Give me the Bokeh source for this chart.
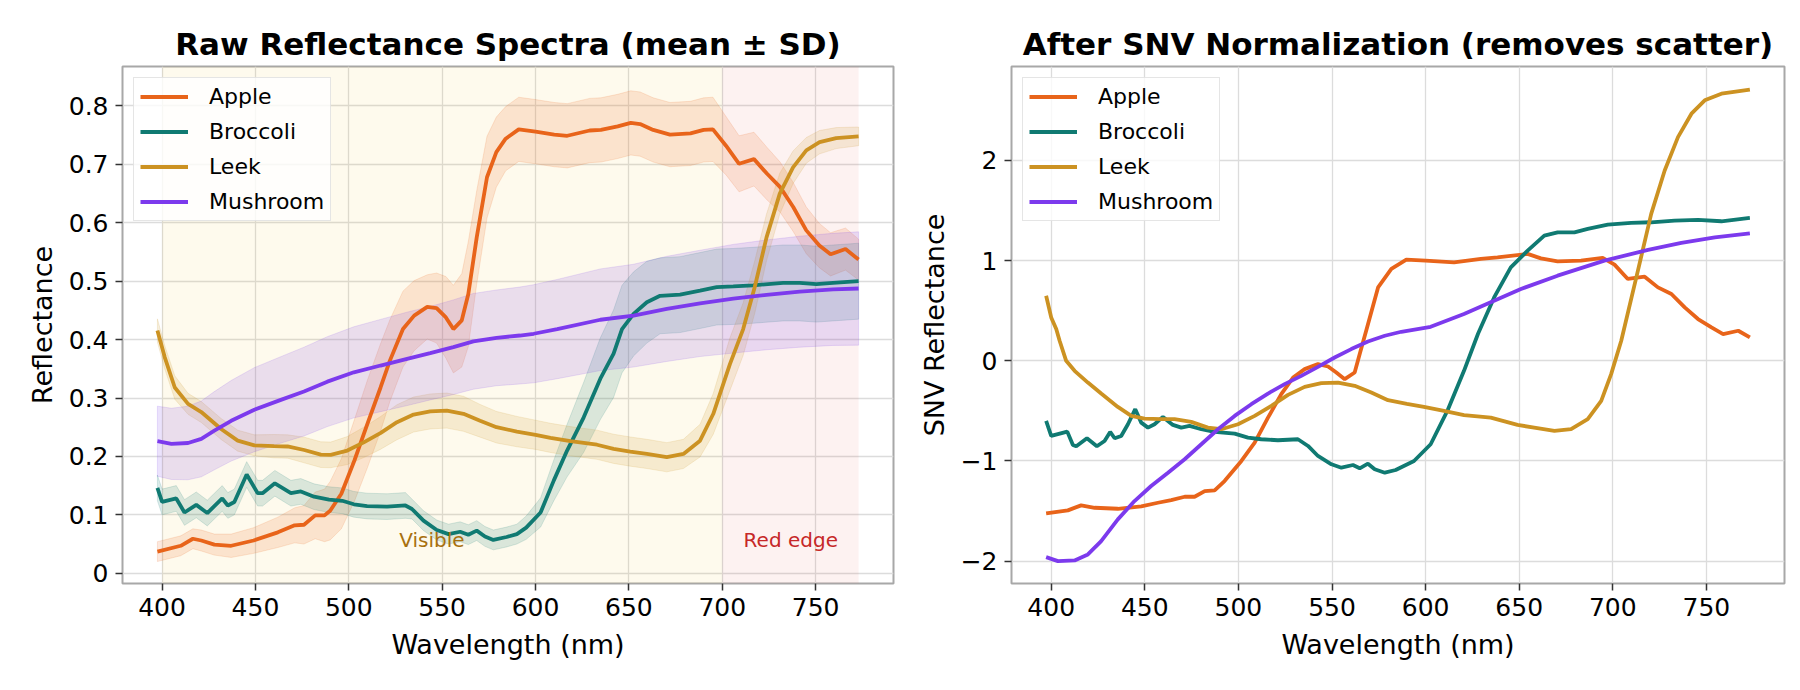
import numpy as np
from bokeh.plotting import figure
from bokeh.layouts import row
from bokeh.models import Range1d, FixedTicker, Label, BoxAnnotation
from bokeh.embed import file_html
from bokeh.resources import INLINE

# ---------------- data ----------------
names = ["Apple", "Broccoli", "Leek", "Mushroom"]
colors = ["#e8641a", "#107a72", "#cc9222", "#7c3aed"]

apple_wl = [397.5, 410, 416.5, 421, 428, 437, 449, 462, 471, 476,
            482, 487, 490, 496, 503, 510, 517, 522, 529, 535,
            542, 547, 552, 556, 560.5, 564, 568.5, 574, 579, 584,
            591, 600, 610, 617, 629, 635, 644, 651, 656, 663,
            672, 683, 690, 695, 702, 709, 717, 724, 731, 738,
            745, 752, 758, 766, 773]
apple_mean = [0.037, 0.047, 0.059, 0.056, 0.049, 0.047, 0.056, 0.070, 0.082, 0.083,
              0.099, 0.099, 0.107, 0.136, 0.193, 0.256, 0.318, 0.364, 0.418, 0.441,
              0.456, 0.454, 0.438, 0.418, 0.433, 0.478, 0.575, 0.678, 0.721, 0.744,
              0.760, 0.756, 0.751, 0.749, 0.758, 0.759, 0.765, 0.771, 0.769, 0.759,
              0.751, 0.753, 0.759, 0.760, 0.732, 0.701, 0.709, 0.684, 0.661, 0.627,
              0.587, 0.561, 0.546, 0.555, 0.537]
apple_sd = [0.017, 0.017, 0.017, 0.018, 0.018, 0.020, 0.022, 0.026, 0.030, 0.033,
            0.040, 0.045, 0.050, 0.060, 0.070, 0.075, 0.075, 0.070, 0.065, 0.060,
            0.055, 0.060, 0.070, 0.075, 0.080, 0.090, 0.080, 0.070, 0.060, 0.055,
            0.055, 0.055, 0.055, 0.055, 0.055, 0.055, 0.055, 0.055, 0.055, 0.055,
            0.055, 0.055, 0.055, 0.055, 0.050, 0.048, 0.046, 0.045, 0.043, 0.042,
            0.040, 0.038, 0.037, 0.036, 0.035]

broc_wl = [397.5, 400, 407.6, 412, 418.3, 424.2, 432.2, 435.2, 438.7, 445.3,
           451.2, 453.8, 460.4, 469, 474.3, 481.4, 489.4, 496.5, 502.7, 509.8,
           520.5, 530.3, 533.8, 540, 547.1, 553.4, 559.6, 564, 568.5, 572.9,
           577.4, 584.5, 590, 595, 602.7, 609.8, 616.9, 625.8, 634.7, 641.8,
           646.3, 652.5, 659.6, 666.7, 677.4, 688.1, 697, 705.9, 716.5, 732.6,
           741.5, 750.4, 759.3, 773]
broc_mean = [0.146, 0.122, 0.128, 0.104, 0.117, 0.103, 0.128, 0.116, 0.122, 0.169,
             0.137, 0.137, 0.154, 0.137, 0.140, 0.131, 0.126, 0.124, 0.118, 0.115,
             0.114, 0.116, 0.110, 0.090, 0.074, 0.067, 0.071, 0.066, 0.073, 0.063,
             0.057, 0.062, 0.067, 0.078, 0.104, 0.159, 0.210, 0.267, 0.333, 0.376,
             0.418, 0.444, 0.464, 0.475, 0.477, 0.484, 0.490, 0.491, 0.493, 0.497,
             0.497, 0.495, 0.497, 0.500]
broc_sd = [0.022, 0.022, 0.022, 0.022, 0.022, 0.022, 0.022, 0.022, 0.022, 0.022,
           0.022, 0.022, 0.022, 0.022, 0.022, 0.022, 0.022, 0.022, 0.022, 0.022,
           0.022, 0.022, 0.017, 0.017, 0.017, 0.017, 0.017, 0.017, 0.017, 0.017,
           0.017, 0.017, 0.017, 0.020, 0.025, 0.035, 0.045, 0.060, 0.070, 0.075,
           0.075, 0.072, 0.070, 0.065, 0.065, 0.065, 0.065, 0.065, 0.065, 0.065,
           0.065, 0.065, 0.065, 0.065]

leek_wl = [397.5, 401.4, 406.8, 413.9, 421, 431.6, 440.5, 449.4, 460, 467.2,
           476.1, 485, 490.3, 499.2, 508, 516.9, 525.8, 534.7, 543.6, 552.5,
           561.4, 570.3, 579.1, 590, 600, 608, 618.7, 632.9, 641.8, 650.7,
           659.6, 670.3, 679.2, 688.1, 695.2, 704.1, 711.2, 717.4, 723.7, 730.8,
           737.9, 745, 752.1, 761, 773]
leek_mean = [0.4155, 0.370, 0.318, 0.290, 0.276, 0.247, 0.227, 0.219, 0.2175, 0.217,
             0.211, 0.203, 0.2026, 0.210, 0.224, 0.240, 0.2586, 0.2717, 0.277, 0.2785,
             0.273, 0.261, 0.250, 0.2425, 0.237, 0.2317, 0.226, 0.220, 0.213, 0.2083,
             0.2043, 0.1986, 0.2043, 0.227, 0.273, 0.358, 0.418, 0.490, 0.575, 0.650,
             0.695, 0.724, 0.738, 0.745, 0.748]
leek_sd = [0.020, 0.020, 0.020, 0.018, 0.018, 0.018, 0.018, 0.018, 0.020, 0.020,
           0.022, 0.022, 0.022, 0.024, 0.026, 0.028, 0.030, 0.030, 0.030, 0.030,
           0.030, 0.028, 0.027, 0.026, 0.025, 0.025, 0.025, 0.025, 0.025, 0.025,
           0.025, 0.025, 0.025, 0.028, 0.035, 0.045, 0.045, 0.045, 0.040, 0.035,
           0.028, 0.022, 0.020, 0.018, 0.016]

mush_wl = [397.5, 405, 413.9, 421, 428, 437, 449.4, 463.6, 476, 488.5,
           502.7, 517, 531.2, 543.6, 556, 566.7, 579.1, 591.6, 599, 611.6,
           634.7, 652.5, 670.3, 688.1, 705.9, 723.7, 741.5, 759.3, 773]
mush_mean = [0.226, 0.2215, 0.223, 0.230, 0.244, 0.261, 0.280, 0.2968, 0.311, 0.328,
             0.344, 0.3556, 0.367, 0.3767, 0.387, 0.397, 0.403, 0.407, 0.410, 0.418,
             0.434, 0.441, 0.4526, 0.462, 0.470, 0.4766, 0.482, 0.486, 0.4875]
mush_sd = [0.060, 0.061, 0.063, 0.065, 0.067, 0.069, 0.072, 0.074, 0.076, 0.077,
           0.078, 0.079, 0.080, 0.080, 0.081, 0.082, 0.082, 0.083, 0.084, 0.085,
           0.087, 0.088, 0.090, 0.091, 0.093, 0.094, 0.095, 0.096, 0.097]

apple_snv_wl = [397.3, 408.9, 416, 423.2, 435.6, 448.1, 457, 464.1, 471.3, 476.6,
                482, 487.3, 492.6, 501.6, 508.7, 515.8, 522.9, 529.2, 535.4, 542.5,
                547.9, 552.3, 556.8, 562.1, 564.8, 568.4, 574.6, 581.7, 589.7, 600,
                615.2, 629.5, 638.4, 654.5, 661.6, 670.5, 683, 694.6, 700.9, 708,
                717, 724.1, 731.3, 738.4, 745.5, 752.7, 758.9, 767, 773.2]
apple_snv = [-1.523, -1.493, -1.443, -1.467, -1.477, -1.453, -1.417, -1.39, -1.357, -1.357,
             -1.3, -1.293, -1.2, -1.0, -0.817, -0.567, -0.333, -0.167, -0.083, -0.033,
             -0.057, -0.117, -0.183, -0.117, 0.067, 0.31, 0.733, 0.917, 1.01, 1.0,
             0.983, 1.017, 1.033, 1.067, 1.023, 0.993, 1.0, 1.027, 0.96, 0.817,
             0.84, 0.733, 0.667, 0.533, 0.417, 0.333, 0.267, 0.3, 0.233]

broc_snv_wl = [397.3, 400, 408.6, 411.6, 413.4, 419.1, 424.4, 428.5, 431.5, 433.9,
               437.4, 441, 444.9, 448.1, 451.7, 455.2, 459.7, 465, 469.5, 473.9,
               480.2, 487.3, 498, 505.1, 512.2, 521.1, 531.8, 537.2, 542.5, 549.7,
               555, 561.2, 564.8, 569.2, 572.8, 578.2, 584, 593.8, 602.7, 611.6,
               620.5, 628, 636.6, 645.5, 654.5, 663.4, 670.5, 679.5, 686.6, 697.3,
               709.8, 720.5, 733, 745.5, 758, 773.2]
broc_snv = [-0.6, -0.75, -0.707, -0.84, -0.853, -0.773, -0.853, -0.8, -0.71, -0.773,
            -0.75, -0.633, -0.483, -0.617, -0.667, -0.633, -0.56, -0.64, -0.667, -0.65,
            -0.683, -0.71, -0.727, -0.767, -0.783, -0.793, -0.783, -0.85, -0.95, -1.033,
            -1.067, -1.04, -1.073, -1.027, -1.083, -1.117, -1.09, -1.0, -0.833, -0.5,
            -0.1, 0.27, 0.633, 0.933, 1.1, 1.25, 1.283, 1.283, 1.317, 1.36,
            1.377, 1.383, 1.4, 1.407, 1.393, 1.427]

leek_snv_wl = [397.3, 400, 402.7, 404.5, 408, 412.5, 419.6, 426.7, 435.6, 442.8,
               449.9, 458.8, 465.9, 474.8, 483.7, 490.9, 499.8, 508.7, 517.6, 526.5,
               535.4, 544.3, 553.2, 562.1, 571, 579.9, 590, 599.1, 609.8, 620.5,
               634.8, 649.1, 658, 668.8, 677.7, 686.6, 693.8, 699.1, 704.5, 713.4,
               720.5, 727.7, 734.8, 742, 749.1, 758, 773.2]
leek_snv = [0.65, 0.433, 0.317, 0.2, 0.0, -0.1, -0.217, -0.327, -0.46, -0.55,
            -0.577, -0.583, -0.583, -0.61, -0.667, -0.683, -0.633, -0.55, -0.45, -0.34,
            -0.26, -0.223, -0.217, -0.25, -0.317, -0.393, -0.43, -0.46, -0.5, -0.543,
            -0.567, -0.64, -0.667, -0.7, -0.683, -0.583, -0.4, -0.133, 0.2, 0.9,
            1.467, 1.9, 2.233, 2.467, 2.6, 2.667, 2.707]

mush_snv_wl = [397.3, 403.6, 412.5, 419.6, 426.7, 435.6, 444.5, 453.4, 462.4, 471.3,
               480.2, 489.1, 498, 506.9, 515.8, 524.7, 533.6, 542.5, 551.4, 560.3,
               569.2, 578.2, 587, 602.7, 620.5, 636.6, 650.9, 670.5, 695.5, 718.8,
               736.6, 754.5, 773.2]
mush_snv = [-1.96, -2.0, -1.993, -1.933, -1.8, -1.583, -1.4, -1.25, -1.117, -0.983,
            -0.833, -0.683, -0.55, -0.433, -0.327, -0.233, -0.15, -0.06, 0.033, 0.117,
            0.193, 0.25, 0.29, 0.34, 0.467, 0.6, 0.717, 0.85, 1.0, 1.107,
            1.177, 1.233, 1.273]

raw_x_ticks = [400, 450, 500, 550, 600, 650, 700, 750]
raw_y_ticks = [0.0, 0.1, 0.2, 0.3, 0.4, 0.5, 0.6, 0.7, 0.8]
snv_y_ticks = [-2, -1, 0, 1, 2]

raw_series = [(apple_wl, apple_mean, apple_sd), (broc_wl, broc_mean, broc_sd),
              (leek_wl, leek_mean, leek_sd), (mush_wl, mush_mean, mush_sd)]
snv_series = [(apple_snv_wl, apple_snv), (broc_snv_wl, broc_snv),
              (leek_snv_wl, leek_snv), (mush_snv_wl, mush_snv)]

FONT = "DejaVu Sans"
X_RANGE = (378.8, 791.7)


def style(p, title, ylabel, yticks, ylabel_standoff):
    p.title.text = title
    p.title.text_font = FONT
    p.title.text_font_size = "31px"
    p.title.text_font_style = "bold"
    p.title.text_color = "black"
    p.title.align = "center"
    p.title.standoff = 9
    p.outline_line_color = "#a8a8a8"
    p.outline_line_width = 2
    p.background_fill_color = "white"
    p.border_fill_color = "white"
    for ax in (p.xaxis[0], p.yaxis[0]):
        ax.axis_line_color = None
        ax.major_tick_out = 7
        ax.major_tick_in = 0
        ax.minor_tick_out = 0
        ax.minor_tick_in = 0
        ax.major_tick_line_color = "#333333"
        ax.major_tick_line_width = 1.5
        ax.major_label_text_font = FONT
        ax.major_label_text_font_size = "25px"
        ax.major_label_text_color = "black"
        ax.major_label_standoff = 7
        ax.axis_label_text_font = FONT
        ax.axis_label_text_font_size = "27px"
        ax.axis_label_text_font_style = "normal"
        ax.axis_label_text_color = "black"
    p.xaxis[0].axis_label = "Wavelength (nm)"
    p.xaxis[0].axis_label_standoff = 10
    p.yaxis[0].axis_label = ylabel
    p.yaxis[0].axis_label_standoff = ylabel_standoff
    p.xaxis[0].ticker = FixedTicker(ticks=raw_x_ticks)
    p.yaxis[0].ticker = FixedTicker(ticks=yticks)
    p.grid.grid_line_color = "#dcdcdc"
    p.grid.grid_line_width = 1.3


def style_legend(p):
    lg = p.legend[0]
    lg.location = "top_left"
    lg.margin = 11
    lg.padding = 6
    lg.spacing = 10
    lg.glyph_width = 48
    lg.glyph_height = 25
    lg.label_height = 25
    lg.label_standoff = 21
    lg.label_text_font = FONT
    lg.label_text_font_size = "22px"
    lg.label_text_color = "black"
    lg.border_line_color = "#cccccc"
    lg.border_line_width = 1.5
    lg.background_fill_color = "white"
    lg.background_fill_alpha = 0.8


# ---------------- left panel: raw spectra ----------------
p1 = figure(frame_width=771, frame_height=517, min_border_left=122, min_border_right=22,
            min_border_top=66, min_border_bottom=107,
            x_range=Range1d(*X_RANGE), y_range=Range1d(-0.0176, 0.8676),
            output_backend="svg", toolbar_location=None)
style(p1, "Raw Reflectance Spectra (mean \u00b1 SD)", "Reflectance", raw_y_ticks, 8)

p1.add_layout(BoxAnnotation(left=400, right=700, fill_color="#f5c518", fill_alpha=0.08,
                            line_color=None, level="underlay"))
p1.add_layout(BoxAnnotation(left=700, right=773, fill_color="#e74c3c", fill_alpha=0.07,
                            line_color=None, level="underlay"))

for (wl, m, sd), c in zip(raw_series, colors):
    wl_a = np.asarray(wl, float)
    m_a = np.asarray(m, float)
    sd_a = np.asarray(sd, float)
    up = m_a + sd_a
    lo = m_a - sd_a
    xs = np.concatenate([wl_a, wl_a[::-1]])
    ys = np.concatenate([up, lo[::-1]])
    p1.patch(xs, ys, fill_color=c, fill_alpha=0.15, line_color=c, line_alpha=0.15, line_width=1)

for (wl, m, sd), c, n in zip(raw_series, colors, names):
    p1.line(wl, m, line_color=c, line_width=3.8, legend_label=n)

p1.add_layout(Label(x=544.5, y=0.057, text="Visible", text_font=FONT, text_font_size="20px",
                    text_color="#a8700f", text_align="center", text_baseline="alphabetic"))
p1.add_layout(Label(x=736.7, y=0.057, text="Red edge", text_font=FONT, text_font_size="20px",
                    text_color="#c62828", text_align="center", text_baseline="alphabetic"))
style_legend(p1)

# ---------------- right panel: SNV ----------------
p2 = figure(frame_width=773, frame_height=517, min_border_left=83, min_border_right=29,
            min_border_top=66, min_border_bottom=107,
            x_range=Range1d(*X_RANGE), y_range=Range1d(-2.223, 2.938),
            output_backend="svg", toolbar_location=None)
style(p2, "After SNV Normalization (removes scatter)", "SNV Reflectance", snv_y_ticks, 8)

for (wl, v), c, n in zip(snv_series, colors, names):
    p2.line(wl, v, line_color=c, line_width=3.8, legend_label=n)
style_legend(p2)

layout = row(p1, p2)
open("out.html", "w").write(file_html(layout, INLINE))
